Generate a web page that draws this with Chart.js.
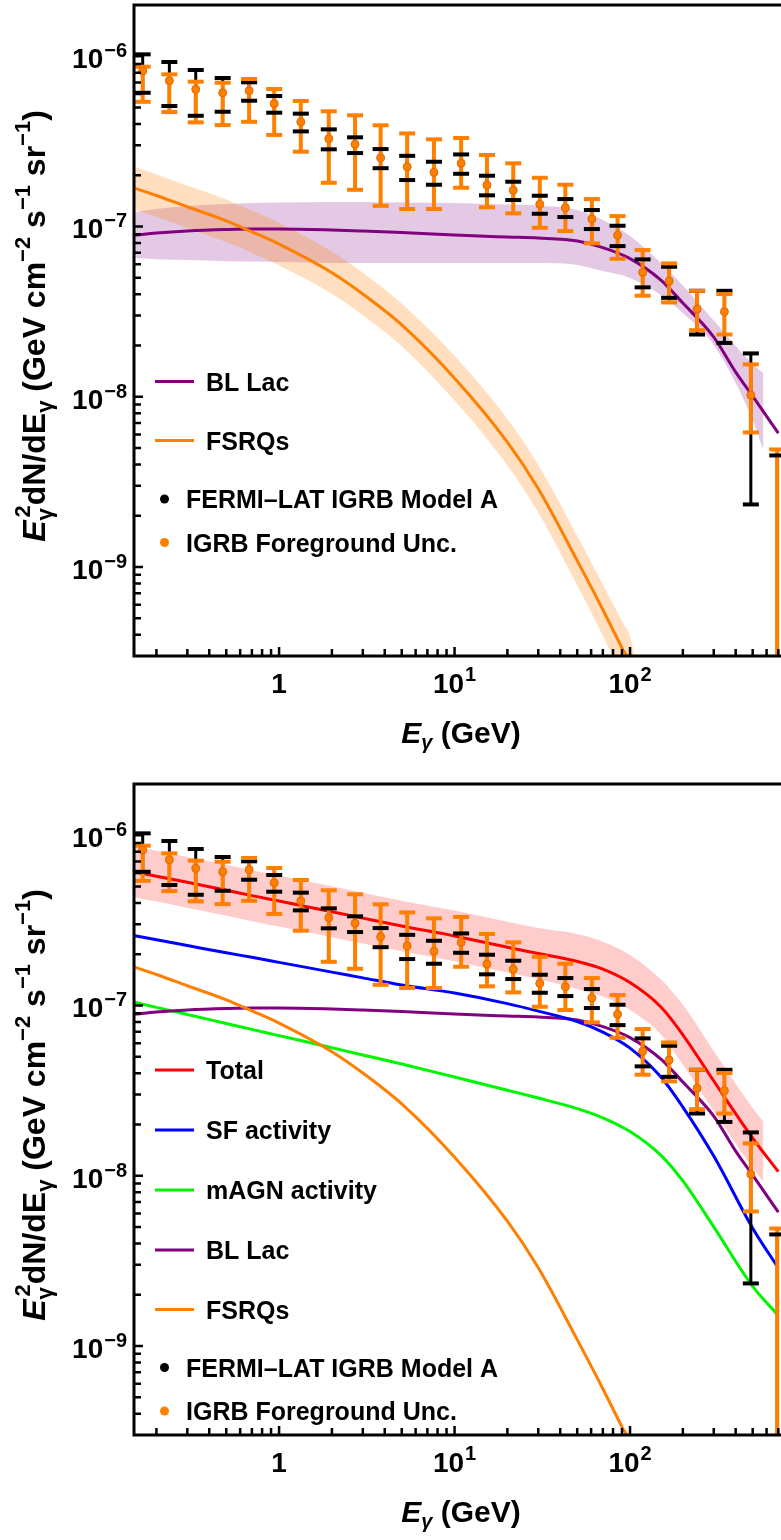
<!DOCTYPE html>
<html>
<head>
<meta charset="utf-8">
<title>IGRB source contributions</title>
<script src="https://cdn.jsdelivr.net/npm/chart.js@4.4.1/dist/chart.umd.min.js"></script>
<style>
  html, body { margin: 0; padding: 0; background: #ffffff; overflow: hidden; }
  body { width: 781px; height: 1540px; position: relative; }
  canvas { position: absolute; left: 0; }
</style>
</head>
<body>
<canvas id="topChart" width="781" height="779" style="top:0px"></canvas>
<canvas id="bottomChart" width="781" height="761" style="top:779px"></canvas>
<script>
// ---------------- data ----------------
// Fermi-LAT IGRB energy bins (GeV)
const binEnergy = [0.167, 0.237, 0.335, 0.477, 0.675, 0.938, 1.33, 1.92, 2.71, 3.79, 5.37, 7.63, 10.9,
  15.3, 21.6, 30.6, 42.8, 60.6, 84.9, 118, 167, 241, 345, 488, 690];
// central values, E^2 dN/dE (GeV cm^-2 s^-1 sr^-1)
const igrbCentral = [8.19e-7, 7.18e-7, 6.39e-7, 6.10e-7, 6.27e-7, 5.26e-7, 4.11e-7, 3.28e-7, 3.04e-7,
  2.53e-7, 2.24e-7, 2.08e-7, 2.35e-7, 1.751e-7, 1.631e-7, 1.349e-7, 1.288e-7, 1.106e-7, 8.87e-8,
  5.38e-8, 4.78e-8, 3.27e-8, 3.16e-8, 1.022e-8, 2.0e-10];
// Fermi-LAT IGRB Model A error range
const fermiLow = [6.10e-7, 5.10e-7, 4.47e-7, 4.72e-7, 5.48e-7, 4.66e-7, 3.62e-7, 2.84e-7, 2.70e-7,
  2.20e-7, 1.874e-7, 1.759e-7, 2.04e-7, 1.524e-7, 1.430e-7, 1.188e-7, 1.136e-7, 9.66e-8, 7.67e-8,
  4.39e-8, 3.81e-8, 2.32e-8, 2.07e-8, 2.33e-9, 1.0e-10];
const fermiHigh = [1.026e-6, 9.25e-7, 8.30e-7, 7.45e-7, 7.03e-7, 5.84e-7, 4.60e-7, 3.72e-7, 3.34e-7,
  2.85e-7, 2.60e-7, 2.40e-7, 2.65e-7, 1.987e-7, 1.832e-7, 1.516e-7, 1.449e-7, 1.249e-7, 1.010e-7,
  6.41e-8, 5.80e-8, 4.19e-8, 4.19e-8, 1.797e-8, 4.52e-9];
// IGRB foreground-uncertainty range
const foregroundLow = [5.40e-7, 4.70e-7, 4.09e-7, 3.94e-7, 4.12e-7, 3.45e-7, 2.75e-7, 1.806e-7, 1.643e-7,
  1.323e-7, 1.266e-7, 1.266e-7, 1.689e-7, 1.296e-7, 1.194e-7, 9.83e-8, 9.40e-8, 7.96e-8, 6.46e-8,
  3.92e-8, 3.58e-8, 2.46e-8, 2.32e-8, 6.17e-9, 1.0e-10];
const foregroundHigh = [8.68e-7, 7.83e-7, 7.09e-7, 6.99e-7, 7.35e-7, 6.42e-7, 5.46e-7, 4.75e-7, 4.50e-7,
  3.93e-7, 3.52e-7, 3.25e-7, 3.31e-7, 2.63e-7, 2.35e-7, 1.933e-7, 1.759e-7, 1.449e-7, 1.151e-7,
  7.27e-8, 6.07e-8, 4.19e-8, 4.01e-8, 1.549e-8, 4.90e-9];

// model curves
const modelEnergy = [0.15, 0.2, 0.3, 0.5, 0.7, 1, 2, 3, 5, 10, 20, 30, 50, 70, 100, 150, 200, 300, 500, 700];
const totalFlux = [6.11e-7, 5.75e-7, 5.29e-7, 4.75e-7, 4.42e-7, 4.11e-7, 3.55e-7, 3.26e-7, 2.93e-7, 2.56e-7,
  2.20e-7, 2.02e-7, 1.816e-7, 1.637e-7, 1.364e-7, 9.80e-8, 6.73e-8, 3.60e-8, 1.664e-8, 1.057e-8];
const sfFlux = [2.57e-7, 2.43e-7, 2.25e-7, 2.04e-7, 1.918e-7, 1.792e-7, 1.570e-7, 1.453e-7, 1.318e-7, 1.183e-7,
  1.026e-7, 9.27e-8, 8.05e-8, 6.98e-8, 5.62e-8, 3.80e-8, 2.53e-8, 1.304e-8, 4.92e-9, 2.87e-9];
const magnFlux = [1.045e-7, 9.75e-8, 8.86e-8, 7.84e-8, 7.24e-8, 6.65e-8, 5.65e-8, 5.12e-8, 4.53e-8, 3.80e-8,
  3.18e-8, 2.86e-8, 2.48e-8, 2.19e-8, 1.817e-8, 1.318e-8, 9.32e-9, 5.01e-9, 2.24e-9, 1.511e-9];

const blLacEnergy = [0.15, 0.2, 0.3, 0.5, 0.7, 1, 2, 3, 5, 10, 20, 30, 50, 70, 100, 150, 200, 300, 400, 500, 700];
const blLacFlux = [8.90e-8, 9.15e-8, 9.40e-8, 9.59e-8, 9.66e-8, 9.66e-8, 9.53e-8, 9.40e-8, 9.21e-8, 8.90e-8,
  8.67e-8, 8.55e-8, 8.21e-8, 7.52e-8, 6.48e-8, 4.84e-8, 3.55e-8, 2.24e-8, 1.395e-8, 1.008e-8, 6.11e-9];

const fsrqEnergy = [0.15, 0.2, 0.3, 0.5, 0.7, 1, 2, 3, 5, 10, 20, 30, 50, 70, 90, 100, 120];
const fsrqFlux = [1.68e-7, 1.52e-7, 1.306e-7, 1.08e-7, 9.30e-8, 7.88e-8, 5.35e-8, 4.01e-8, 2.64e-8, 1.285e-8,
  5.41e-9, 2.88e-9, 1.09e-9, 5.61e-10, 3.34e-10, 2.69e-10, 1.0e-10];
const fsrqUpper = [2.24e-7, 2.02e-7, 1.74e-7, 1.44e-7, 1.24e-7, 1.05e-7, 7.13e-8, 5.35e-8, 3.52e-8, 1.74e-8,
  7.4e-9, 3.97e-9, 1.52e-9, 7.9e-10, 4.8e-10, 3.9e-10, 1.5e-10];
const fsrqLower = [1.26e-7, 1.14e-7, 9.8e-8, 8.1e-8, 6.99e-8, 5.92e-8, 4.02e-8, 3.01e-8, 1.98e-8, 9.5e-9,
  3.95e-9, 2.09e-9, 7.8e-10, 3.95e-10, 2.3e-10, 1.85e-10, 6e-11];

// uncertainty bands (end near 575 GeV)
const bandEnergy = [0.15, 0.2, 0.3, 0.5, 0.7, 1, 2, 3, 5, 10, 20, 30, 50, 70, 100, 150, 200, 300, 500, 575];
const blLacUpper = [1.216e-7, 1.266e-7, 1.318e-7, 1.354e-7, 1.373e-7, 1.382e-7, 1.391e-7, 1.391e-7, 1.382e-7, 1.373e-7,
  1.345e-7, 1.327e-7, 1.249e-7, 1.091e-7, 8.79e-8, 6.10e-8, 4.50e-8, 2.80e-8, 1.55e-8, 1.38e-8];
const blLacLower = [6.52e-8, 6.43e-8, 6.35e-8, 6.26e-8, 6.22e-8, 6.18e-8, 6.10e-8, 6.10e-8, 6.10e-8, 6.10e-8,
  6.10e-8, 6.10e-8, 5.94e-8, 5.47e-8, 4.98e-8, 3.95e-8, 3.10e-8, 2.01e-8, 7.29e-9, 4.86e-9];
const totalUpper = [8.62e-7, 8.11e-7, 7.46e-7, 6.70e-7, 6.23e-7, 5.80e-7, 5.01e-7, 4.60e-7, 4.13e-7, 3.61e-7,
  3.10e-7, 2.85e-7, 2.63e-7, 2.37e-7, 1.98e-7, 1.42e-7, 1.01e-7, 5.40e-8, 2.50e-8, 2.07e-8];
const totalLower = [4.33e-7, 4.08e-7, 3.75e-7, 3.37e-7, 3.13e-7, 2.91e-7, 2.52e-7, 2.31e-7, 2.08e-7, 1.82e-7,
  1.56e-7, 1.43e-7, 1.25e-7, 1.13e-7, 9.41e-8, 6.76e-8, 4.49e-8, 2.40e-8, 1.11e-8, 9.2e-9];

// axis ticks and labels
const xMajorTicks = [1, 10, 100];
const xMajorLabels = [['1', ''], ['10', '1'], ['10', '2']];
const xMinorTicks = [0.2, 0.3, 0.4, 0.5, 0.6, 0.7, 0.8, 0.9, 2, 3, 4, 5, 6, 7, 8, 9,
  20, 30, 40, 50, 60, 70, 80, 90, 200, 300, 400, 500, 600, 700];
const yMajorTicks = [1e-9, 1e-8, 1e-7, 1e-6];
const yMajorLabels = [['10', '\u22129'], ['10', '\u22128'], ['10', '\u22127'], ['10', '\u22126']];
const yMinorTicks = [4e-10, 5e-10, 6e-10, 7e-10, 8e-10, 9e-10, 2e-9, 3e-9, 4e-9, 5e-9, 6e-9, 7e-9, 8e-9, 9e-9,
  2e-8, 3e-8, 4e-8, 5e-8, 6e-8, 7e-8, 8e-8, 9e-8, 2e-7, 3e-7, 4e-7, 5e-7, 6e-7, 7e-7, 8e-7, 9e-7];

const topLegendLabels = ['BL Lac', 'FSRQs', 'FERMI\u2013LAT IGRB Model A', 'IGRB Foreground Unc.'];
const bottomLegendLabels = ['Total', 'SF activity', 'mAGN activity', 'BL Lac', 'FSRQs',
  'FERMI\u2013LAT IGRB Model A', 'IGRB Foreground Unc.'];

// ---------------- styling ----------------
const ORANGE = 'rgb(255,127,0)';
const PURPLE = 'rgb(128,0,128)';
const RED = 'rgb(255,0,0)';
const BLUE = 'rgb(0,0,255)';
const GREEN = 'rgb(0,245,0)';
const FONT = '"Liberation Sans", Arial, Helvetica, sans-serif';
const bold = px => `bold ${px}px ${FONT}`;
const boldItalic = px => `italic bold ${px}px ${FONT}`;

function pointsOf(xs, ys) { return xs.map((x, i) => ({ x: x, y: ys[i] })); }
function capsOf(xs, lo, hi) {
  const out = [];
  xs.forEach((x, i) => { out.push({ x: x, y: lo[i] }, { x: x, y: hi[i] }); });
  return out;
}
function stemsOf(xs, lo, hi) {
  const out = [];
  xs.forEach((x, i) => { out.push({ x: x, y: lo[i] }, { x: x, y: hi[i] }, { x: x, y: null }); });
  return out;
}

function curve(label, xs, ys, color, order) {
  return { label, data: pointsOf(xs, ys), borderColor: color, borderWidth: 3, pointRadius: 0,
    fill: false, cubicInterpolationMode: 'monotone', order };
}
function band(label, xs, up, lo, color, order) {
  return [
    { label: label + ' upper', data: pointsOf(xs, up), borderColor: 'rgba(0,0,0,0)', borderWidth: 0,
      pointRadius: 0, fill: '+1', backgroundColor: color, cubicInterpolationMode: 'monotone', order },
    { label: label + ' lower', data: pointsOf(xs, lo), borderColor: 'rgba(0,0,0,0)', borderWidth: 0,
      pointRadius: 0, fill: false, cubicInterpolationMode: 'monotone', order }
  ];
}
function dataSets() {
  return [
    { label: 'IGRB Foreground Unc.', data: pointsOf(binEnergy, igrbCentral), showLine: false,
      pointStyle: 'circle', pointRadius: 4, pointBackgroundColor: ORANGE,
      pointBorderColor: 'rgb(220,105,0)', pointBorderWidth: 1, order: 1 },
    { label: 'foreground caps', data: capsOf(binEnergy, foregroundLow, foregroundHigh), showLine: false,
      pointStyle: 'line', pointRadius: 8, pointBorderWidth: 4, pointBorderColor: ORANGE, order: 2 },
    { label: 'Fermi caps', data: capsOf(binEnergy, fermiLow, fermiHigh), showLine: false,
      pointStyle: 'line', pointRadius: 8, pointBorderWidth: 4, pointBorderColor: '#000', order: 3 },
    { label: 'foreground bars', data: stemsOf(binEnergy, foregroundLow, foregroundHigh), showLine: true,
      spanGaps: false, borderColor: ORANGE, borderWidth: 4, pointRadius: 0, order: 4 },
    { label: 'Fermi bars', data: stemsOf(binEnergy, fermiLow, fermiHigh), showLine: true,
      spanGaps: false, borderColor: '#000', borderWidth: 3, pointRadius: 0, order: 5 }
  ];
}

// ---------------- rich text helpers ----------------
function layoutRich(ctx, segs) {
  let cur = 0, lastX = 0, lastW = 0;
  const items = [];
  segs.forEach(s => {
    ctx.font = s.f;
    const w = ctx.measureText(s.t).width;
    if (s.stack) {
      items.push(Object.assign({}, s, { x: lastX + (s.dx || 0) }));
      const adv = Math.max(lastW, w + (s.dx || 0));
      cur = lastX + adv; lastW = adv;
    } else {
      items.push(Object.assign({}, s, { x: cur }));
      lastX = cur; lastW = w; cur += w;
    }
  });
  return { items, width: cur };
}
function drawRich(ctx, lay, x0, y0) {
  ctx.textAlign = 'left';
  ctx.textBaseline = 'alphabetic';
  lay.items.forEach(it => { ctx.font = it.f; ctx.fillText(it.t, x0 + it.x, y0 + (it.dy || 0)); });
}

const yTitleSegs = [
  { t: 'E', f: boldItalic(32) },
  { t: '\u03b3', f: bold(22), dy: 7 },
  { t: '2', f: bold(22), dy: -15, stack: true, dx: 3 },
  { t: 'dN/dE', f: bold(32) },
  { t: '\u03b3', f: bold(22), dy: 7 },
  { t: ' (GeV cm', f: bold(32) },
  { t: '\u22122', f: bold(22), dy: -15 },
  { t: ' s', f: bold(32) },
  { t: '\u22121', f: bold(22), dy: -15 },
  { t: ' sr', f: bold(32) },
  { t: '\u22121', f: bold(22), dy: -15 },
  { t: ')', f: bold(32) }
];
const xTitleSegs = [
  { t: 'E', f: boldItalic(30) },
  { t: '\u03b3', f: boldItalic(20), dy: 6 },
  { t: ' (GeV)', f: bold(30) }
];

// ---------------- frame / ticks / labels / legend plugin ----------------
const decor = {
  id: 'decor',
  afterDatasetsDraw(chart, args, opts) {
    const ctx = chart.ctx;
    const area = chart.chartArea;
    const xs = chart.scales.x, ys = chart.scales.y;
    const W = chart.width;
    ctx.save();
    ctx.fillStyle = '#000';
    ctx.strokeStyle = '#000';

    // inward ticks
    ctx.lineWidth = 2.5;
    ctx.lineCap = 'butt';
    ctx.beginPath();
    xMajorTicks.concat(xMinorTicks).forEach(v => {
      const px = xs.getPixelForValue(v);
      if (px < area.left + 2 || px > W) return;
      const len = xMajorTicks.includes(v) ? 9 : 7;
      ctx.moveTo(px, area.bottom); ctx.lineTo(px, area.bottom - len);
    });
    yMajorTicks.concat(yMinorTicks).forEach(v => {
      const py = ys.getPixelForValue(v);
      if (py < area.top + 2 || py > area.bottom - 2) return;
      const len = yMajorTicks.includes(v) ? 9 : 7;
      ctx.moveTo(area.left, py); ctx.lineTo(area.left + len, py);
    });
    ctx.stroke();

    // frame (top, left, bottom; right side is cut off)
    ctx.lineWidth = 3;
    ctx.lineJoin = 'miter';
    ctx.beginPath();
    ctx.moveTo(W + 4, area.top);
    ctx.lineTo(area.left, area.top);
    ctx.lineTo(area.left, area.bottom);
    ctx.lineTo(W + 4, area.bottom);
    ctx.stroke();

    // y tick labels
    ctx.textBaseline = 'alphabetic';
    yMajorTicks.forEach((v, i) => {
      const py = ys.getPixelForValue(v);
      const [base, exp] = yMajorLabels[i];
      ctx.textAlign = 'right';
      ctx.font = bold(20);
      const we = ctx.measureText(exp).width;
      ctx.fillText(exp, area.left - 7, py + 1);
      ctx.font = bold(28);
      ctx.fillText(base, area.left - 7 - we - 1, py + 12);
    });
    // x tick labels
    xMajorTicks.forEach((v, i) => {
      const px = xs.getPixelForValue(v);
      const [base, exp] = xMajorLabels[i];
      ctx.font = bold(28);
      const wb = ctx.measureText(base).width;
      ctx.font = bold(20);
      const we = exp ? ctx.measureText(exp).width + 1 : 0;
      const start = px - (wb + we) / 2;
      ctx.textAlign = 'left';
      ctx.font = bold(28);
      ctx.fillText(base, start, area.bottom + 37);
      if (exp) { ctx.font = bold(20); ctx.fillText(exp, start + wb + 1, area.bottom + 25); }
    });

    // x axis title
    const xl = layoutRich(ctx, xTitleSegs);
    drawRich(ctx, xl, 461 - xl.width / 2, area.bottom + 87);

    // y axis title (rotated)
    const yl = layoutRich(ctx, yTitleSegs);
    ctx.save();
    ctx.translate(45, area.top + 321);
    ctx.rotate(-Math.PI / 2);
    drawRich(ctx, yl, -yl.width / 2, 0);
    ctx.restore();

    // legend
    (opts.items || []).forEach(it => {
      if (it.kind === 'line') {
        ctx.strokeStyle = it.color; ctx.lineWidth = 3.2;
        ctx.beginPath(); ctx.moveTo(155, it.y); ctx.lineTo(194, it.y); ctx.stroke();
        ctx.fillStyle = '#000'; ctx.font = bold(25); ctx.textAlign = 'left';
        ctx.fillText(it.text, 206, it.y + 9);
      } else {
        ctx.fillStyle = it.color;
        ctx.beginPath(); ctx.arc(164.5, it.y, 4.5, 0, Math.PI * 2); ctx.fill();
        ctx.fillStyle = '#000'; ctx.font = bold(25); ctx.textAlign = 'left';
        ctx.fillText(it.text, 186, it.y + 9);
      }
    });
    ctx.restore();
  }
};

function baseOptions(padBottom, legendItems) {
  return {
    responsive: false,
    animation: false,
    devicePixelRatio: 1,
    events: [],
    layout: { autoPadding: false, padding: { left: 134, top: 5, right: 0, bottom: padBottom } },
    scales: {
      x: { type: 'logarithmic', min: 0.149, max: 725, bounds: 'data', display: false },
      y: { type: 'logarithmic', min: 3e-10, max: 2e-6, bounds: 'data', display: false }
    },
    plugins: {
      legend: { display: false },
      tooltip: { enabled: false },
      decor: { items: legendItems }
    }
  };
}

// ---------------- top panel ----------------
new Chart(document.getElementById('topChart'), {
  type: 'line',
  data: {
    datasets: [
      ...band('BL Lac band', bandEnergy, blLacUpper, blLacLower, 'rgba(128,0,128,0.21)', 20),
      ...band('FSRQ band', fsrqEnergy, fsrqUpper, fsrqLower, 'rgba(255,127,0,0.25)', 19),
      curve(topLegendLabels[0], blLacEnergy, blLacFlux, PURPLE, 8),
      curve(topLegendLabels[1], fsrqEnergy, fsrqFlux, ORANGE, 7),
      ...dataSets()
    ]
  },
  options: baseOptions(779 - 656, [
    { kind: 'line', color: PURPLE, text: topLegendLabels[0], y: 381.5 },
    { kind: 'line', color: ORANGE, text: topLegendLabels[1], y: 440.5 },
    { kind: 'dot', color: '#000', text: topLegendLabels[2], y: 499 },
    { kind: 'dot', color: ORANGE, text: topLegendLabels[3], y: 542.5 }
  ]),
  plugins: [decor]
});

// ---------------- bottom panel ----------------
new Chart(document.getElementById('bottomChart'), {
  type: 'line',
  data: {
    datasets: [
      ...band('Total band', bandEnergy, totalUpper, totalLower, 'rgba(255,0,0,0.2)', 20),
      curve(bottomLegendLabels[0], modelEnergy, totalFlux, RED, 8),
      curve(bottomLegendLabels[1], modelEnergy, sfFlux, BLUE, 9),
      curve(bottomLegendLabels[2], modelEnergy, magnFlux, GREEN, 10),
      curve(bottomLegendLabels[3], blLacEnergy, blLacFlux, PURPLE, 9),
      curve(bottomLegendLabels[4], fsrqEnergy, fsrqFlux, ORANGE, 7),
      ...dataSets()
    ]
  },
  options: baseOptions(761 - 656, [
    { kind: 'line', color: RED, text: bottomLegendLabels[0], y: 291 },
    { kind: 'line', color: BLUE, text: bottomLegendLabels[1], y: 351 },
    { kind: 'line', color: GREEN, text: bottomLegendLabels[2], y: 411 },
    { kind: 'line', color: PURPLE, text: bottomLegendLabels[3], y: 471 },
    { kind: 'line', color: ORANGE, text: bottomLegendLabels[4], y: 530.5 },
    { kind: 'dot', color: '#000', text: bottomLegendLabels[5], y: 588.5 },
    { kind: 'dot', color: ORANGE, text: bottomLegendLabels[6], y: 632 }
  ]),
  plugins: [decor]
});
</script>
</body>
</html>
